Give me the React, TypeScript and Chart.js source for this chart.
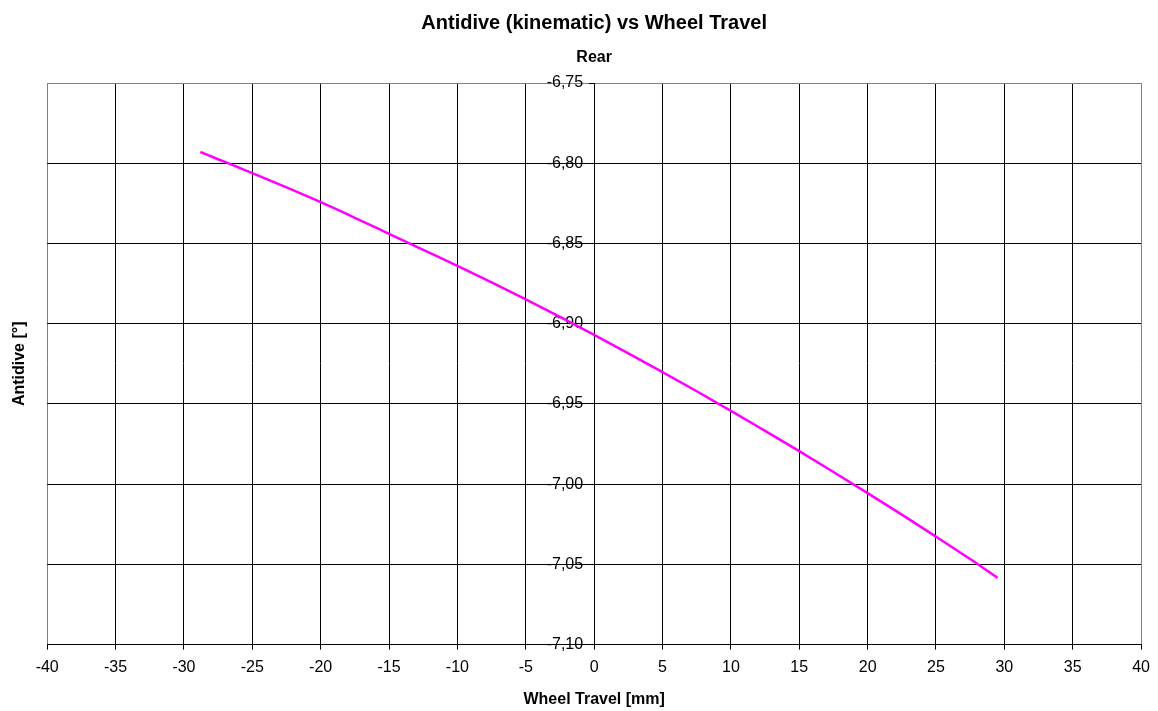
import React, { useEffect, useRef } from "react";
import { Chart, registerables } from "chart.js";

Chart.register(...registerables);

const travel = [-28.8, -27.5, -25, -22.5, -20, -17.5, -15, -12.5, -10, -7.5, -5, -2.5, 0, 2.5, 5, 7.5, 10, 12.5, 15, 17.5, 20, 22.5, 25, 27.5, 29.5];
const antidive = [-6.793, -6.7975, -6.8062, -6.8151, -6.8243, -6.8340, -6.8440, -6.8540, -6.8640, -6.8742, -6.8848, -6.8958, -6.907, -6.9185, -6.9302, -6.9421, -6.9543, -6.9668, -6.9794, -6.9924, -7.0056, -7.019, -7.0327, -7.0467, -7.0584];

const chartTitle = "Antidive (kinematic) vs Wheel Travel";
const chartSubtitle = "Rear";
const xTitle = "Wheel Travel [mm]";
const yTitle = "Antidive [°]";

const FONT = "'Liberation Sans', Arial, sans-serif";

export default function App() {
  const ref = useRef<HTMLCanvasElement | null>(null);

  useEffect(() => {
    if (!ref.current) return;
    const points = travel.map((x, i) => ({ x, y: antidive[i] }));
    const chart = new Chart(ref.current, {
      type: "scatter",
      data: {
        datasets: [
          {
            data: points,
            showLine: true,
            borderColor: "#FF00FF",
            backgroundColor: "#FF00FF",
            borderWidth: 2.5,
            pointRadius: 0,
            cubicInterpolationMode: "monotone",
            yAxisID: "y",
          },
        ],
      },
      options: {
        animation: false,
        responsive: false,
        layout: { padding: { left: 0, right: 16, top: 0, bottom: 0 } },
        plugins: {
          legend: { display: false },
          tooltip: { enabled: false },
          title: {
            display: true,
            text: chartTitle,
            fullSize: false,
            color: "#000",
            font: { family: FONT, size: 20, weight: "bold" },
            padding: { top: 11, bottom: 0 },
          },
          subtitle: {
            display: true,
            text: chartSubtitle,
            fullSize: false,
            color: "#000",
            font: { family: FONT, size: 16, weight: "bold" },
            padding: { top: 13, bottom: 15.8 },
          },
        },
        scales: {
          x: {
            type: "linear",
            position: "bottom",
            min: -40,
            max: 40,
            ticks: {
              stepSize: 5,
              autoSkip: false,
              maxRotation: 0,
              padding: 8,
              color: "#000",
              font: { family: FONT, size: 16 },
            },
            grid: {
              color: (ctx: any) => (ctx.tick && (ctx.tick.value === -40 || ctx.tick.value === 40) ? "#808080" : "#000"),
              lineWidth: 1,
              tickLength: 5,
              tickColor: "#000",
            },
            border: { display: true, color: "#000", width: 1 },
            title: {
              display: true,
              text: xTitle,
              color: "#000",
              font: { family: FONT, size: 16, weight: "bold" },
              padding: { top: 5, bottom: 2 },
            },
          },
          y: {
            type: "linear",
            position: "center",
            min: -7.1,
            max: -6.75,
            ticks: {
              stepSize: 0.05,
              padding: 6,
              color: "#000",
              font: { family: FONT, size: 16 },
              callback: (v: any) => Number(v).toFixed(2).replace(".", ","),
            },
            grid: {
              color: (ctx: any) => (ctx.tick && Math.abs(ctx.tick.value + 6.75) < 1e-6 ? "#808080" : "#000"),
              lineWidth: 1,
              tickLength: 5,
              tickColor: "#000",
            },
            border: { display: true, color: "#000", width: 1 },
          },
          yTitle: {
            type: "linear",
            position: "left",
            display: true,
            ticks: { display: false },
            grid: { display: false, drawTicks: false },
            border: { display: false },
            title: {
              display: true,
              text: yTitle,
              color: "#000",
              font: { family: FONT, size: 16, weight: "bold" },
              padding: { top: 10, bottom: 18 },
            },
          },
        },
      },
    });
    return () => chart.destroy();
  }, []);

  return (
    <div style={{ position: "absolute", left: 0, top: 0, width: 1158, height: 711, background: "#fff" }}>
      <canvas ref={ref} width={1158} height={711} />
    </div>
  );
}
